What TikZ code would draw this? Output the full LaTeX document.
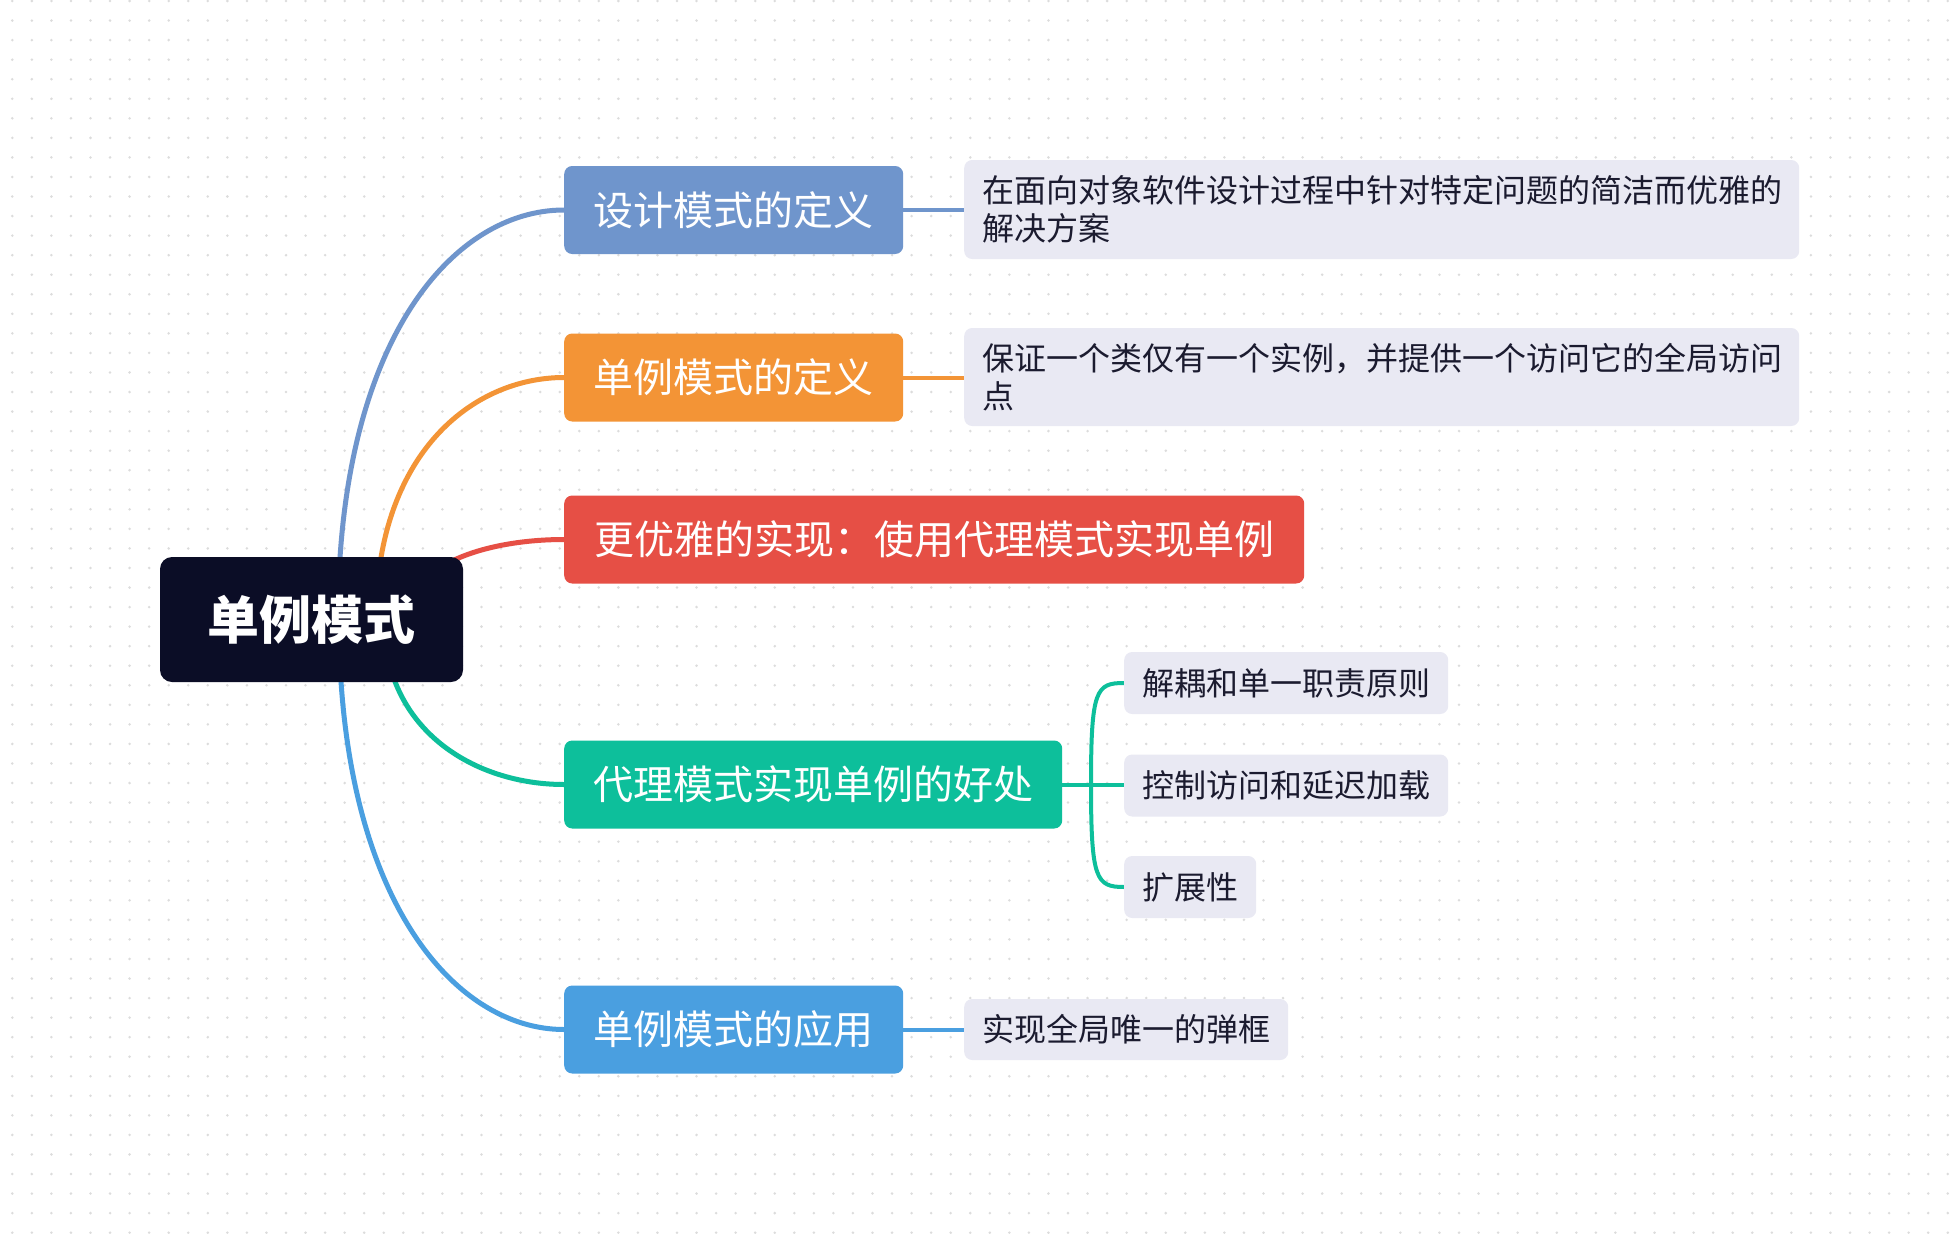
\documentclass[tikz,border=0pt]{standalone}
\usepackage{fontspec}
\newfontfamily\cjk{Noto Sans CJK SC}
\usetikzlibrary{calc}
\definecolor{rootc}{HTML}{0B0D26}
\definecolor{cA}{HTML}{6F95CC}
\definecolor{cB}{HTML}{F39436}
\definecolor{cC}{HTML}{E64F45}
\definecolor{cD}{HTML}{0DBF9B}
\definecolor{cE}{HTML}{4A9FE0}
\definecolor{leafc}{HTML}{E9E9F3}
\definecolor{leaftxt}{HTML}{1B1B2F}
\definecolor{dotc}{HTML}{DCDCDC}
\pgfdeclarelayer{dots}
\pgfdeclarelayer{links}
\pgfsetlayers{dots,links,main}
\begin{document}
\begin{tikzpicture}[x=1pt,y=-1pt,
  rootbox/.style={fill=rootc,text=white,rounded corners=12pt,minimum width=303pt,minimum height=125pt,inner sep=0pt,font=\cjk\bfseries\fontsize{52pt}{62pt}\selectfont},
  branch/.style={rounded corners=8pt,minimum height=88pt,text=white,inner sep=0pt,anchor=west,font=\cjk\fontsize{40pt}{48pt}\selectfont},
  leaf/.style={fill=leafc,text=leaftxt,rounded corners=8pt,inner xsep=18pt,inner ysep=0pt,anchor=west,align=left,font=\cjk\fontsize{32pt}{38pt}\selectfont},
  mainlink/.style={line width=5pt},
  sublink/.style={line width=4pt}]
\useasboundingbox (0,0) rectangle (1960,1234);
\begin{pgfonlayer}{dots}
\fill[white] (0,0) rectangle (1960,1234);
\foreach \i in {0,...,100}{
  \foreach \j in {0,...,63}{
    \fill[dotc] (12.3+19.55*\i,1+19.55*\j) circle[radius=1.4pt];
  }
}
\end{pgfonlayer}

\node[rootbox] (root) at (311.5,619.5) {单例模式};

\node[branch,fill=cA,minimum width=339pt] (b1) at (564,210) {设计模式的定义};
\node[branch,fill=cB,minimum width=339pt] (b2) at (564,377.5) {单例模式的定义};
\node[branch,fill=cC,minimum width=740pt] (b3) at (564,539.5) {更优雅的实现：使用代理模式实现单例};
\node[branch,fill=cD,minimum width=498pt] (b4) at (564,784.5) {代理模式实现单例的好处};
\node[branch,fill=cE,minimum width=339pt] (b5) at (564,1029.5) {单例模式的应用};

\node[leaf,minimum height=99pt,text width=799pt,inner xsep=18pt] (l1) at (964,209.5) {在面向对象软件设计过程中针对特定问题的简洁而优雅的\\解决方案};
\node[leaf,minimum height=98pt,text width=799pt,inner xsep=18pt] (l2) at (964,377) {保证一个类仅有一个实例，并提供一个访问它的全局访问\\点};
\node[leaf,minimum height=62pt,minimum width=323pt] (l41) at (1124,683) {解耦和单一职责原则};
\node[leaf,minimum height=62pt,minimum width=323pt] (l42) at (1124,785.5) {控制访问和延迟加载};
\node[leaf,minimum height=62pt,minimum width=131pt] (l43) at (1124,887) {扩展性};
\node[leaf,minimum height=61pt,minimum width=324pt] (l5) at (964,1029.5) {实现全局唯一的弹框};

\coordinate (j4) at (1091,784.5);

\begin{pgfonlayer}{links}
\draw[mainlink,cA] ($(root.center)+(26.5,0)$) .. controls +(0,-279) and +(-111,0) .. (b1.west);
\draw[mainlink,cB] ($(root.center)+(64.5,0)$) .. controls +(0,-165) and +(-92,0) .. (b2.west);
\draw[mainlink,cC] ($(root.center)+(95.5,0)$) .. controls +(0,-55) and +(-77,0) .. (b3.west);
\draw[mainlink,cD] ($(root.center)+(72.5,0)$) .. controls +(0,112) and +(-88,0) .. (b4.west);
\draw[mainlink,cE] ($(root.center)+(27.5,0)$) .. controls +(0,278) and +(-110,0) .. (b5.west);

\draw[sublink,cA] (b1.east) -- (b1.east -| l1.west);
\draw[sublink,cB] (b2.east) -- (b2.east -| l2.west);
\draw[sublink,cE] (b5.east) -- (b5.east -| l5.west);
\draw[sublink,cD] (b4.east) -- (b4.east -| l42.west);
\draw[sublink,cD] (j4) .. controls +(0,-95) and +(-28,0) .. (l41.west);
\draw[sublink,cD] (j4) .. controls +(0,95) and +(-28,0) .. (l43.west);
\end{pgfonlayer}
\end{tikzpicture}
\end{document}
